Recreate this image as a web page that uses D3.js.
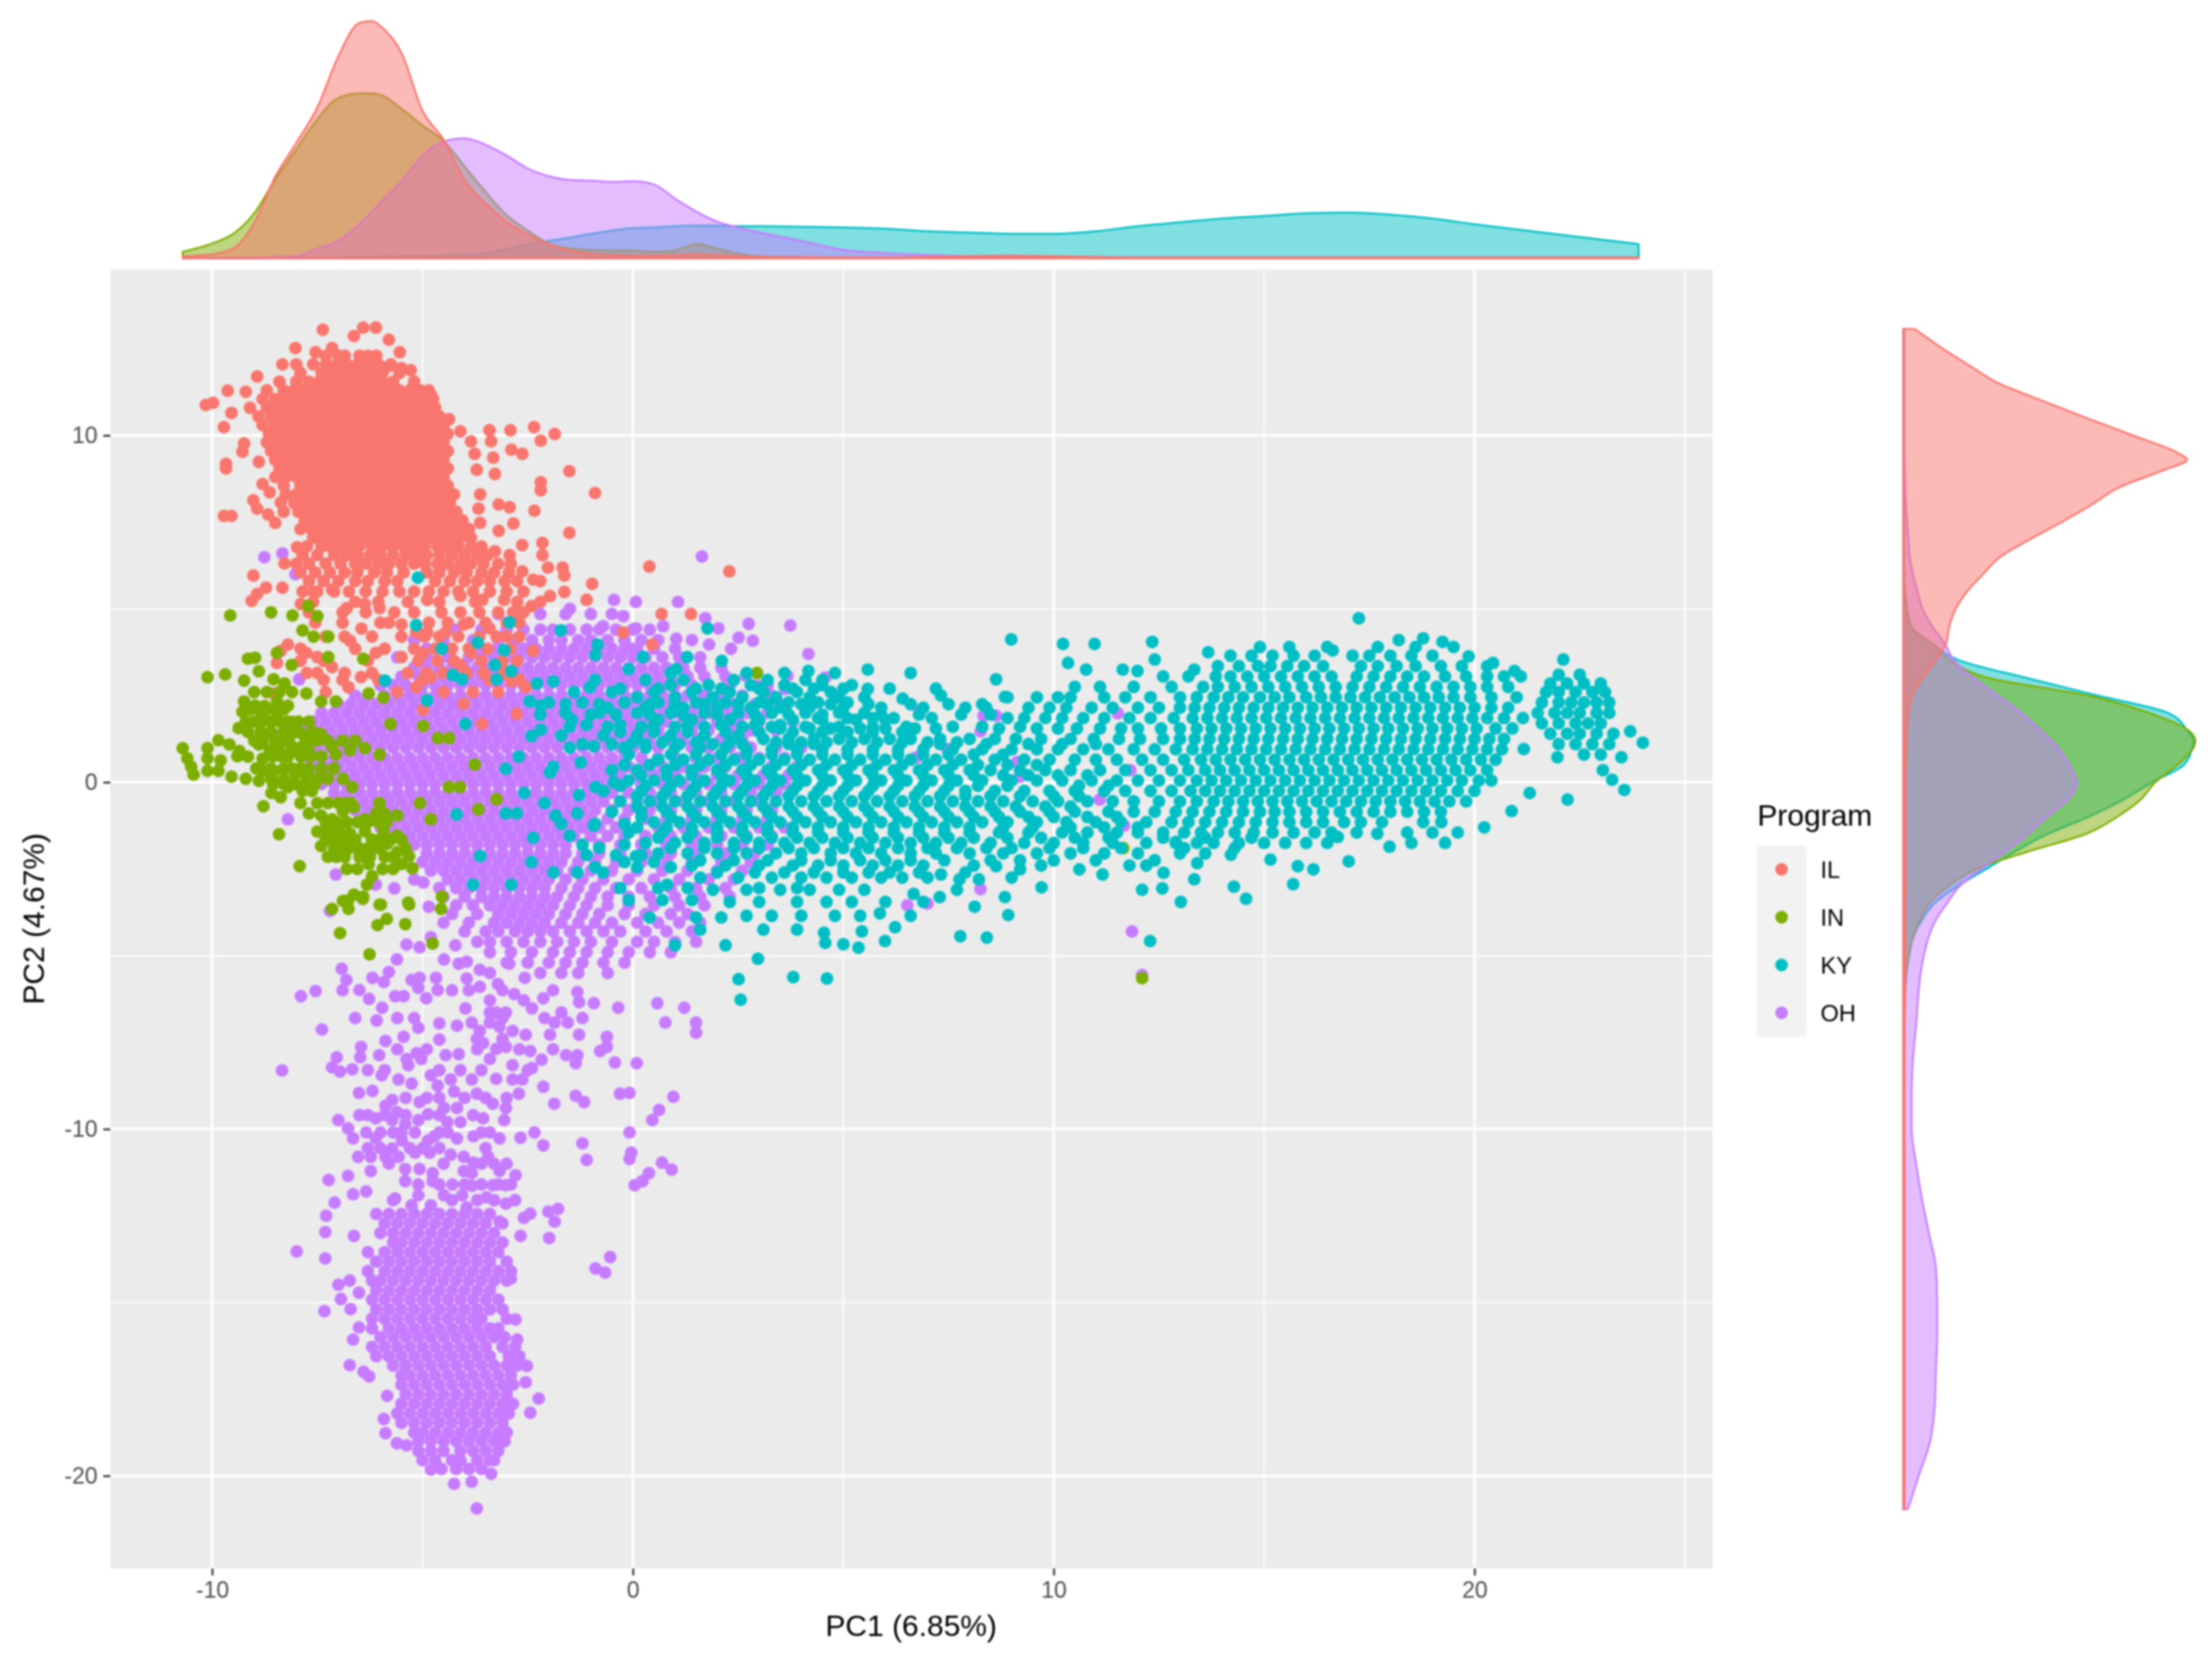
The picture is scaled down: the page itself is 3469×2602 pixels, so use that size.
<!DOCTYPE html>
<html><head><meta charset="utf-8">
<script src="https://cdnjs.cloudflare.com/ajax/libs/d3/7.8.5/d3.min.js"></script>
<style>html,body{margin:0;padding:0;background:#fff}svg{display:block;filter:blur(1.7px)}text{font-family:"Liberation Sans",Arial,sans-serif}</style>
</head><body><div id="chart"></div>
<script>
const programs = ["IL","IN","KY","OH"];
const programColors = ["#F8766D","#7CAE00","#00BFC4","#C77CFF"];
const xTicks = [-10,0,10,20], xMinor = [-5,5,15,25], yTicks = [-20,-10,0,10], yMinor = [-15,-5,5];

// marginal density of PC1 (relative units)
const topGrid = [-10.7,-10,-9.5,-9,-8.5,-8,-7.5,-7,-6.5,-6.2,-6,-5.5,-5,-4.5,-4,-3.5,-3,-2.5,-2,-1.5,-1,-.5,0,.5,1,1.5,2,2.5,3,4,5,6,7,8,9,10,11,12,13,14,15,16,17,18,19,20,21,22,23,23.9];
const topIL = [3,6,15,55,127,180,235,315,367,370,362,320,230,185,122,85,57,37,22,12,7,5,4,4,5,6,5,3,2,2,1,1,2,3,4,3,2,1,1,1,1,1,1,1,1,1,1,1,1,1];
const topIN = [10,23,38,70,123,170,217,250,257,257,255,233,207,183,143,103,67,43,23,15,13,12,12,10,12,22,15,7,3,1,1,1,1,1,1,1,1,1,1,1,1,1,1,1,1,1,1,1,1,1];
const topKY = [0,0,0,0,1,1,1,1,2,2,2,3,3,4,5,8,14,22,27,32,38,43,47,48,50,51,51,50,50,49,48,46,42,40,38,38,42,50,56,62,66,70,71,68,62,53,45,37,29,22];
const topOH = [0,0,1,1,2,3,15,27,53,72,87,120,160,182,187,177,160,140,128,122,121,119,120,115,93,73,57,48,40,27,13,8,5,3,3,2,2,1,1,1,1,1,1,1,1,1,1,1,1,1];

// marginal density of PC2 (relative units)
const rightGrid = [13.07,12.5,12,11.5,11,10.5,10,9.5,9.3,9,8.5,8,7.5,7,6.5,6,5.5,5,4.5,4,3.5,3,2.5,2,1.5,1.2,1,.5,0,-.5,-1,-1.5,-2,-2.5,-3,-3.5,-4,-4.5,-5,-5.5,-6,-7,-8,-9,-10,-11,-12,-13,-14,-15,-16,-17,-18,-19,-20,-20.96];
const rightIL = [18,62,105,150,218,288,360,430,445,408,338,295,248,198,152,125,100,82,72,67,50,30,14,8,6,5,5,4,4,4,4,4,4,4,4,3,3,3,3,3,3,2,2,2,2,2,2,2,2,2,2,2,2,2,2,2];
const rightIN = [1,1,1,1,1,1,1,1,1,1,1,1,1,1,1,1,3,6,12,45,75,135,290,385,447,458,455,430,395,372,335,285,195,115,70,40,25,14,9,4,2,1,1,1,1,1,1,1,1,1,1,1,1,1,1,1];
const rightKY = [1,1,1,1,1,1,1,1,1,1,1,1,1,1,1,1,2,5,10,45,90,195,305,415,445,455,453,440,390,345,290,225,175,130,85,48,28,15,9,5,3,1,1,1,1,1,1,1,1,1,1,1,1,1,1,1];
const rightOH = [1,1,1,1,1,1,1,1,2,2,3,4,6,8,10,15,22,30,45,65,80,110,148,185,215,232,242,260,272,258,225,195,160,123,88,68,50,39,32,27,24,20,15,13,13,20,29,40,51,53,53,51,49,42,24,7];

// scores: single points [PC1, PC2]
const ilSingles = [[-7.37,13.05],[-6.41,13.11],[-6.11,13.11],[-5.8,12.76],[-5.54,12.4],[-6.63,12.87],[-7.15,12.52],[-8.02,12.52],[-7.54,12.4],[-8.33,12.05],[-8.93,11.7],[-9.63,11.29],[-9.2,11.26],[-9.98,10.94],[-10.15,10.88],[-9.54,10.65],[-9.72,10.24],[-9.24,9.77],[-9.28,9.53],[-9.67,9.18],[-9.67,9.05],[-8.89,9.24],[-8.8,8.6],[-8.63,8.36],[-9.02,8.13],[-8.93,7.89],[-9.72,7.68],[-9.54,7.68],[-8.67,7.72],[-8.5,7.48],[-8.37,8.07],
[-5.8,12],[-5.28,11.88],[-5.5,11.94],[-4.8,11.17],[-4.76,10.82],[-4.37,10.47],[-3.41,10.15],[-2.91,10.15],[-2.35,10.24],[-1.86,10.04],[-2.19,9.85],[-4.1,10.12],[-3.85,9.83],[-3.76,9.47],[-3.37,9.83],[-3.32,9.36],[-3.28,8.89],[-3.71,9.01],[-2.89,9.59],[-2.63,9.47],[-1.51,8.97],[-2.19,8.65],[-2.19,8.42],[-.9,8.34],[-3.63,8.3],[-3.67,7.89],[-3.19,8.01],[-2.93,7.93],[-2.34,7.83],[-3.63,7.48],[-2.84,7.46],[-3.19,7.25],[-1.51,7.19],[-2.63,6.84],[-2.15,6.9],[-3.28,6.66],[-2.93,6.55],[-2.15,6.55],[-1.67,6.19],[-2.02,6.19],[-1.63,5.96],[-2.63,6.08],[-2.37,5.84],[-.97,5.72],[-1.1,5.26],[-1.63,5.49],[-1.97,5.37],[.39,6.22],[2.29,6.08],[.68,4.85],[1.38,4.85],[-.23,4.32],[.46,3.97],
[-9.02,5.96],[-8.72,5.61],[-8.93,5.43],[-9.06,5.23],[-8.33,5.61],[-8.28,6.31],[-7.89,5.14],[-7.59,5.49],[-7.98,6.78],[-7.15,5.55],
[-8.2,3.97],[-8.37,3.79],[-7.76,3.73],[-7.5,3.61],[-7.15,3.32],[-7.5,3.15],[-6.46,3.03],[-6.76,2.74],[-6.72,4.08],[-6.45,4.43],[-6.11,3.73],[-5.5,3.61],[-5.15,4.32],[-4.89,4.32],[-4.45,4.32],[-4.02,4.55],[-3.41,4.44],[-3.24,4.2],[-4.1,3.38],[-3.85,3.73],[-4.98,3.73],[-4.8,3.03],[-5.15,2.74],[-2.89,2.91],[-2.54,2.74],[-2.37,3.79],[-3.06,5.26],[-2.41,5.08],[-4.1,5.37],[-3.58,5.26],[-4.89,5.26],[-5.67,4.9],[-6.02,5.02],[-6.37,5.14],[-6.8,5.02],[-5.5,4.55],[-4.98,2.09],[-4.02,2.27],[-3.58,1.68],[-2.76,1.97],[-8.54,2.56],[-8.46,3.44]];
// scores: dense bands [PC2, PC1, PC1, ...]
const ilBands = [
[12.3,-7.3,-7,-6.85,-6.5,-6.3,-6.1],
[12.05,-8,-7.6,-7.3,-7.05,-6.8,-6.55,-6.3,-6.05,-5.75],
[11.8,-7.9,-7.4,-7.15,-6.9,-6.65,-6.4,-6.15,-5.95,-5.55],
[11.55,-8.4,-8,-7.7,-7.45,-7.2,-6.95,-6.7,-6.45,-6.2,-5.95,-5.7,-5.2],
[11.3,-8.7,-8.3,-8.05,-7.8,-7.55,-7.3,-7.05,-6.8,-6.55,-6.3,-6.05,-5.8,-5.55,-5.3,-5.05,-4.85],
[11.05,-8.8,-8.5,-8.25,-8,-7.75,-7.5,-7.25,-7,-6.75,-6.5,-6.25,-6,-5.75,-5.5,-5.25,-5,-4.75],
[10.8,-9.1,-8.7,-8.45,-8.2,-7.95,-7.7,-7.45,-7.2,-6.95,-6.7,-6.45,-6.2,-5.95,-5.7,-5.45,-5.2,-4.95,-4.7],
[10.55,-8.9,-8.6,-8.35,-8.1,-7.85,-7.6,-7.35,-7.1,-6.85,-6.6,-6.35,-6.1,-5.85,-5.6,-5.35,-5.1,-4.85,-4.6],
[10.3,-8.8,-8.5,-8.25,-8,-7.75,-7.5,-7.25,-7,-6.75,-6.5,-6.25,-6,-5.75,-5.5,-5.25,-5,-4.75,-4.5],
[10.05,-8.65,-8.4,-8.15,-7.9,-7.65,-7.4,-7.15,-6.9,-6.65,-6.4,-6.15,-5.9,-5.65,-5.4,-5.15,-4.9,-4.65,-4.4],
[9.8,-8.7,-8.5,-8.25,-8,-7.75,-7.5,-7.25,-7,-6.75,-6.5,-6.25,-6,-5.75,-5.5,-5.25,-5,-4.75,-4.5],
[9.55,-8.6,-8.4,-8.15,-7.9,-7.65,-7.4,-7.15,-6.9,-6.65,-6.4,-6.15,-5.9,-5.65,-5.4,-5.15,-4.9,-4.65,-4.4],
[9.3,-8.5,-8.25,-8,-7.75,-7.5,-7.25,-7,-6.75,-6.5,-6.25,-6,-5.75,-5.5,-5.25,-5,-4.75,-4.5],
[9.05,-8.4,-8.15,-7.9,-7.65,-7.4,-7.15,-6.9,-6.65,-6.4,-6.15,-5.9,-5.65,-5.4,-5.15,-4.9,-4.65,-4.4],
[8.8,-8.5,-8.25,-8,-7.75,-7.5,-7.25,-7,-6.75,-6.5,-6.25,-6,-5.75,-5.5,-5.25,-5,-4.75,-4.5],
[8.55,-8.3,-7.9,-7.65,-7.4,-7.15,-6.9,-6.65,-6.4,-6.15,-5.9,-5.65,-5.4,-5.15,-4.9,-4.65,-4.4],
[8.3,-8.25,-8,-7.75,-7.5,-7.25,-7,-6.75,-6.5,-6.25,-6,-5.75,-5.5,-5.25,-5,-4.75,-4.5,-4.25],
[8.05,-8.05,-7.85,-7.6,-7.35,-7.1,-6.85,-6.6,-6.35,-6.1,-5.85,-5.6,-5.35,-5.1,-4.85,-4.6,-4.35],
[7.8,-8.3,-7.95,-7.7,-7.45,-7.2,-6.95,-6.7,-6.45,-6.2,-5.95,-5.7,-5.45,-5.2,-4.95,-4.7,-4.45,-4.2],
[7.55,-7.8,-7.55,-7.3,-7.05,-6.8,-6.55,-6.3,-6.05,-5.8,-5.55,-5.3,-5.05,-4.8,-4.55,-4.3,-4.05],
[7.3,-7.9,-7.65,-7.4,-7.15,-6.9,-6.65,-6.4,-6.15,-5.9,-5.65,-5.4,-5.15,-4.9,-4.65,-4.4,-4.15,-3.9],
[7.05,-7.6,-7.35,-7.1,-6.85,-6.6,-6.35,-6.1,-5.85,-5.6,-5.35,-5.1,-4.85,-4.6,-4.35,-4.1,-3.85],
[6.8,-7.75,-7.4,-7.2,-6.95,-6.7,-6.5,-6.2,-5.95,-5.7,-5.45,-5.2,-4.95,-4.65,-4.4,-4.15,-3.85,-3.6],
[6.55,-7.85,-7.5,-7.1,-6.8,-6.55,-6.25,-6,-5.7,-5.4,-5.15,-4.9,-4.6,-4.3,-4,-3.7,-3.45],
[6.3,-8,-7.7,-7.3,-6.95,-6.6,-6.35,-6.05,-5.8,-5.5,-5.2,-4.95,-4.65,-4.4,-4.1,-3.85,-3.55,-3.2,-2.9],
[6.05,-7.9,-7.55,-7.2,-6.85,-6.55,-6.15,-5.85,-5.45,-4.9,-4.6,-4.25,-3.95,-3.6,-3.3,-2.95],
[5.8,-7.7,-7.35,-7,-6.6,-6.3,-5.9,-5.6,-4.7,-4.35,-4,-3.7,-3.4,-3.05,-2.75,-2.2],
[5.5,-7.85,-7.5,-7.1,-6.75,-6.35,-5.95,-5.55,-5.2,-4.85,-4.5,-4.15,-3.8,-3.4,-3,-2.6],
[5.2,-7.6,-6.6,-6.05,-5.35,-4.6,-3.75,-2.75,-2.2],
[4.9,-7.7,-6.9,-6.35,-5.2,-4.55,-4.1,-3.65,-3.2,-2.85,-2.6],
[4.6,-7.55,-6.9,-6,-5.8,-4.85,-4.4,-3.9,-3.5,-3,-2.7],
[4.2,-7.3,-6.85,-6.2,-5.5,-4.95,-4.6,-4.15,-3.65,-3,-2.7],
[3.85,-7.9,-6.6,-5.9,-5.2,-4.7,-4.3,-3.9,-3.45,-2.9],
[3.5,-7.9,-7.35,-6.3,-5.1,-4.65,-4.25,-3.6,-3.1,-2.75],
[3.15,-7.75,-6.85,-6.2,-5.35,-4.9,-4.5,-3.95,-3.55,-3.05],
[2.95,-7.35,-6.9,-6.05,-5,-3.4,-2.7],
[2.6,-7.3,-5.6,-4.5,-3.8,-3.2]];

const inSingles = [[-9.57,4.81],[-8.6,4.9],[-8.09,4.81],[-7.72,5.08],[-7.5,4.79],[-7.85,4.38],[-7.59,4.2],[-7.24,4.2],[-9.15,3.56],[-8.98,3.59],[-8.46,3.73],[-8.11,3.38],[-7.24,3.61],[-10.11,3.03],[-9.69,3.11],[-9.24,2.93],[-8.89,3.2],[-8.54,2.97],[-8.28,2.85],[-6.41,3.56],[-9.24,2.33],[-9.28,2.03],[-8.98,2.21],[-8.75,2.2],[-8.46,2.33],[-8.2,2.21],[-7.76,2.56],[-7.41,2.33],[-7.06,2.33],[-6.28,2.56],[-5.93,2.44],[-8.8,1.97],[-8.46,1.86],[-8.11,1.74],[-9.37,1.56],[-9.15,1.45],[-8.85,1.45],[-8.11,1.39],[-7.85,1.39],[-8.11,1.04],[-7.85,1.04],[-8.2,.74],[-7.89,.74],[-8.89,1.09],[-8.63,.92],[-9.15,.74],[-8.8,.68],[-10.7,.98],[-10.59,.69],[-10.5,.45],[-10.44,.22],[-10.11,.98],[-9.85,1.21],[-9.59,1.09],[-10.11,.69],[-9.8,.63],[-10.11,.33],[-9.85,.33],[-9.54,.16],[-8.8,.33],[-8.54,.33],[-8.89,.04],[-8.02,.22],[-7.76,.22],[-8.2,-.14],[-7.85,-.25],[-7.63,-.25],[-8.59,-.31],[-8.37,-.43],[-8.78,-.69],[-8.41,-1.5],[-7.92,-2.42],[-7.41,1.39],[-7.15,1.04],[-7.06,.8],[-6.72,.92],[-6.37,.98],[-6.02,.8],[-5.76,1.68],[-4.98,1.62],[-4.63,1.27],[-4.37,1.27],[-3.76,.51],[-4.37,-.14],[-4.11,-.14],[-3.24,-.49],[-5.06,-.6],[-3.67,-.78],[-4.8,-1.07],[-6.67,-.14],[-6.89,.1],[-6.8,-.6],[-7.41,-.96],[-7.15,-1.07],[-6.89,-.84],[-6.63,-.72],[-6.37,-1.07],[-6.02,-.6],[-5.6,-.96],[-7.5,-1.42],[-7.24,-1.42],[-6.98,-1.42],[-6.72,-1.48],[-6.37,-1.42],[-5.93,-1.42],[-5.6,-1.54],[-7.41,-1.84],[-6.98,-1.84],[-6.72,-1.89],[-6.28,-1.89],[-5.85,-1.78],[-5.6,-2.01],[-5.32,-2.13],[-6.28,-2.36],[-5.5,-2.36],[-5.24,-2.48],[-6.2,-2.71],[-6.32,-2.95],[-6.89,-3.42],[-6.63,-3.24],[-6.41,-3.3],[-6.76,-3.65],[-6.02,-3.53],[-5.32,-3.53],[-4.54,-3.3],[-5.85,-3.94],[-7.15,-3.65],[-6.26,-4.96],[-6.96,-4.35],[-6.77,-3.41],[-6.42,-3.36],[-5.99,-3.53],[-5.34,-3.47],[-5.41,-4.09],[-6.07,-4.12],[-4.56,-3.65],[-4.76,-4.65],[11.65,-1.9],[2.95,3.15],[12.1,-5.65]];
const inBands = [
[2.6,-9,-8.7,-8.4,-8.1],
[2.1,-9.1,-8.9,-8.7,-8.5,-8.3],
[1.75,-9.2,-9,-8.8,-8.6,-8.4,-8.2,-7.95,-7.7],
[1.45,-8.6,-8.3,-8,-7.6],
[1.2,-9,-8.8,-8.5,-8.3,-7.7,-7.5,-7.25,-6.9,-6.6],
[.9,-9.35,-8.4,-8.1,-7.9,-7.7],
[.75,-9.4,-8.55,-8.35,-7.65,-7.4],
[.4,-8.95,-8.6,-8.3,-8.1,-7.9,-7.7,-7.4,-7.1],
[.1,-9.2,-8.6,-8.3,-7.5,-7.25],
[-.05,-8.55,-8.3,-8.05,-7.8,-7.55],
[-.6,-7.9,-7.5,-7.25,-7,-6.7],
[-.9,-7.7,-6.1,-5.9],
[-1.15,-7.3,-7.05,-6.8,-6.55,-6.3,-6.05,-5.85],
[-1.65,-7.3,-7.1,-6.85,-6.6,-6.2,-6,-5.75,-5.5],
[-1.9,-7.1,-6.5,-6.05,-5.4],
[-2.15,-7.25,-7.05,-6.85,-6.5,-6.25,-5.9,-5.7],
[-2.5,-6.8,-6.55,-5.95,-5.7]];

const kySingles = [[17.25,4.73],[8.99,4.12],[10.22,3.99],[10.97,3.99],[12.34,4.05],[13.67,3.75],[16.63,3.8],[18.2,4.1],[18.78,4.15],[19.24,4.05],[19.86,3.63],[20.44,3.44],[20.95,3.21],[22.11,3.54],[10.34,3.44],[10.77,3.25],[11.64,3.25],[11.99,3.21],[12.4,3.54],[13.34,3.25],[8.63,2.97],[5.58,3.25],[5.58,2.69],[6.41,2.41],[7.32,2.5],[7.9,2.15],[8.84,2.46],[4.17,3.21],
[9.71,-3.03],[8.84,-3.31],[8.12,-3.59],[8.92,-3.83],[6.23,-4.18],[7.78,-4.44],[8.41,-4.48],[5.99,-4.58],[5.44,-4.3],[5,-4.67],[4.57,-4.63],[5.36,-4.77],[4.54,-4.34],[2.97,-5.09],[3.81,-5.62],[4.61,-5.66],[2.51,-5.68],[2.56,-6.27],[12.29,-4.58],[12.1,-3.1],[12.58,-3.06],[13.02,-3.45],[14.28,-3.01],[14.57,-3.36],[15.69,-2.94],[11.16,-2.66],[10.61,-2.51],[9.2,-2.51],[8.63,-2.42],[7.76,-2.8],[8.22,-2.8],[7.32,-2.66],[6.67,-3.22],[7.29,-3.31],[5.87,-3.78],[20.23,-1.3],[20.88,-.83],[22.21,-.5],[21.31,-.31],[21.17,.96],[21.97,.72],[17.01,-2.28],[17.98,-1.86],[17.69,-1.48],[16.75,-1.58],[16.17,-2.51],[15.8,-2.42],[15.15,-2.23],[14.21,-2.09],[13.41,-2.33],[12.61,-2.61],[13.34,-2.8],[12.9,-1.72],[18.78,-1.15],[19.21,-1.15],[24,1.14],[23.7,1.47],[23.49,.72],[23.56,-.22],[23.27,.07],[23.05,.35],
[-5.11,5.9],[-5.15,4.53],[-4.54,3.85],[-3.69,4.03],[-2.93,4.61],[-3.06,3.81],[-3.28,3.38],[-4.28,3.09],[-4.06,2.97],[-2.89,3.2],[-3.24,2.97],[-5.89,2.93],[-4.89,2.36],[-3.98,1.68],[-1.71,4.38],[-.84,3.97],[-.89,3.67],[.24,3.61],[1.77,4.44],[1.29,3.61],[2.11,3.5],[-.1,3.26],[1.03,3.26],[-1.89,2.91],[-2.28,2.85],[-1.02,2.74],[-2.19,2.21],[-2.45,2.33],[-1.45,1.8],[-2.19,1.51],[-2.41,1.33],[-2.71,.74],[-3.02,.39],[-2.58,-.31],[-3.02,-.9],[-2.76,-.9],[-4.19,-.93],[-3.63,-2.13],[-3.8,-2.95],[-2.89,-2.95],[-2.37,-1.6],[-2.41,-2.3],[-1.89,-2.6],[-1.89,.45],[-1.97,.28],[-2.1,-.6],[-1.84,-.96],[-1.28,-.37],[-1.32,-.9],[-1.5,-1.54],[-.93,-1.25],[-1.24,.57],[-.93,1.04],[-.89,-.14],[-.45,0],[-.8,-1.89],[-1.32,-2.6],[-.71,-2.6],[.07,-2.13],[.81,-2.95]];
const kyBands = [
[3.9,14.9,15.6,16.5,17.7,18.6,19.5],
[3.65,14.2,14.7,15.2,15.7,16.2,17.1,17.5,18,18.5,19],
[3.35,13.9,14.4,14.85,15.15,15.55,15.95,16.4,17.3,17.7,18.15,18.6,19.2,19.7,20.3],
[3.05,12.6,13.2,13.85,14.2,14.6,15,15.4,15.8,16.2,16.6,17.2,17.6,18,18.4,18.8,19.3,19.8,20.3,20.7,21.1],
[2.75,10.5,11.1,11.9,12.8,13.55,13.9,14.3,14.7,15.1,15.5,15.9,16.3,16.7,17.1,17.5,17.9,18.3,18.7,19.1,19.5,19.9,20.3,20.8],
[2.45,8.9,9.6,10.1,10.4,11.2,11.7,12.3,13,13.4,13.8,14.15,14.5,14.9,15.25,15.6,16,16.35,16.7,17.05,17.4,17.75,18.1,18.45,18.8,19.15,19.5,19.9,20.4,21],
[2.15,5.9,6.9,8.4,9.4,9.9,10.3,10.9,11.4,12,12.5,13,13.35,13.7,14.05,14.4,14.75,15.1,15.45,15.8,16.15,16.5,16.85,17.2,17.55,17.9,18.25,18.6,18.95,19.3,19.65,20,20.4,20.8],
[1.85,4.4,5.1,5.7,6.2,7.1,8.9,9.3,9.8,10.2,10.7,11.2,11.8,12.3,12.85,13.3,13.65,14,14.35,14.7,15.05,15.4,15.75,16.1,16.45,16.8,17.15,17.5,17.85,18.2,18.55,18.9,19.25,19.6,19.95,20.3,20.7,21.15],
[1.55,3.5,4.2,4.7,5.4,6,6.7,7.2,8.7,9.6,10.1,10.55,11.1,11.6,12,12.55,13,13.4,13.75,14.1,14.45,14.8,15.15,15.5,15.85,16.2,16.55,16.9,17.25,17.6,17.95,18.3,18.65,19,19.35,19.7,20.05,20.5,20.9],
[1.25,3.1,3.7,4.3,4.9,5.5,6.1,6.6,7.3,8,8.6,9.1,9.7,10.4,10.95,11.55,12.05,12.6,13,13.35,13.7,14.05,14.4,14.75,15.1,15.45,15.8,16.15,16.5,16.85,17.2,17.55,17.9,18.25,18.6,18.95,19.3,19.65,20,20.35,20.7],
[.95,2.7,3.3,3.9,4.5,5.1,5.7,6.3,6.9,7.6,8.3,9,9.6,10.1,10.7,11.3,11.9,12.4,12.9,13.3,13.65,14,14.35,14.7,15.05,15.4,15.75,16.1,16.45,16.8,17.15,17.5,17.85,18.2,18.55,18.9,19.25,19.6,19.95,20.3,20.65],
[.65,.6,1.2,1.8,2.4,3,3.6,4.2,4.8,5.4,6,6.6,7.2,7.8,8.6,9.3,9.9,10.5,11,11.5,12.1,12.6,13.1,13.5,13.85,14.2,14.55,14.9,15.25,15.6,15.95,16.3,16.65,17,17.35,17.7,18.05,18.4,18.75,19.1,19.45,19.8,20.15,20.5],
[.35,-.5,.1,.8,1.4,2,2.6,3.2,3.8,4.4,5,5.6,6.2,6.8,7.4,8,8.5,9.2,9.8,10.4,11.1,11.7,12.3,12.8,13.2,13.6,13.95,14.3,14.65,15,15.35,15.7,16.05,16.4,16.75,17.1,17.45,17.8,18.15,18.5,18.85,19.2,19.55,19.9,20.3],
[.05,-.1,.5,1.1,1.7,2.3,2.9,3.5,4.1,4.7,5.3,5.9,6.5,7.1,7.7,8.3,9,9.6,10.2,10.9,11.5,12,12.5,13,13.4,13.75,14.1,14.45,14.8,15.15,15.5,15.85,16.2,16.55,16.9,17.25,17.6,17.95,18.3,18.65,19,19.35,19.7,20.1,20.4],
[-.25,-.7,.2,.8,1.4,2,2.6,3.2,3.8,4.4,5,5.6,6.2,6.8,7.4,7.9,8.6,9.3,9.9,10.5,11.2,11.7,12.3,12.8,13.25,13.6,13.95,14.3,14.65,15,15.35,15.7,16.05,16.4,16.75,17.1,17.45,17.8,18.15,18.5,18.85,19.2,19.6,20],
[-.55,-.3,.4,1,1.6,2.2,2.8,3.4,4,4.6,5.2,5.8,6.4,7,7.6,8.2,8.8,9.5,10.1,10.8,11.4,11.9,12.5,13,13.4,13.8,14.15,14.5,14.85,15.2,15.55,15.9,16.25,16.6,16.95,17.3,17.65,18,18.35,18.7,19.05,19.4,19.8],
[-.85,-.5,.2,.8,1.4,2,2.6,3.2,3.8,4.4,5,5.6,6.2,6.8,7.4,8,8.6,9.2,9.9,10.5,11.3,11.9,12.4,12.9,13.3,13.7,14.1,14.5,14.9,15.25,15.6,16,16.4,16.8,17.2,17.6,18,18.4,18.8,19.2],
[-1.15,.5,1.1,1.7,2.3,2.9,3.5,4.1,4.7,5.3,5.9,6.5,7.1,7.7,8.3,8.9,9.6,10.3,11,11.6,12.2,12.8,13.2,13.6,14,14.4,14.8,15.2,15.6,16,16.4,16.9,17.3,17.8],
[-1.45,-.1,.7,1.4,2,2.6,3.2,3.8,4.4,5,5.6,6.2,6.8,7.4,8,8.7,9.4,10.2,10.8,11.5,12,12.6,13.1,13.5,13.9,14.3,14.75,15.2,15.7,16.2,16.6,17.2,18.4,19,19.6],
[-1.75,.3,1,1.7,2.4,3,3.6,4.2,4.8,5.4,6,6.6,7.2,7.8,8.5,9.3,10,10.7,11.4,12.2,12.9,13.4,13.8,14.4,15,15.5,16,16.5,18.5,19.3],
[-2.05,.6,1.3,2,2.7,3.4,4,4.7,5.3,5.9,6.6,7.2,8,8.8,9.6,10.4,11.2,12,13,13.6],
[-2.4,1.4,2.2,3,3.8,4.4,5,5.7,6.3,6.9,8.1,9.7,11.8,12.2],
[-2.75,1.6,2.5,3.3,4,4.6,5.2,5.9,6.4,7,9],
[-3.1,1.9,2.7,3.5,4.2,4.9,5.5,7.7],
[-3.45,2.3,3,3.9,4.6,5.2,6,6.9],
[-3.85,2.7,3.3,4,4.8,5.4,6.6],
[-4.25,1.6,3.1,3.9],
[-4.7,1,2.2],
[2.95,-.9,.3,1.2,2.4,3.2,4.1,4.5],
[2.6,-1.4,-.5,.5,1.4,2.3,3.1,3.9,4.7],
[2.3,-2,-1.2,-.2,.6,1.5,2.2,3,3.7,4.4,5.1],
[2,-1.6,-.8,.1,.9,1.7,2.5,3.3,4.1,4.9,5.5],
[1.65,-1.1,-.3,.5,1.3,2.1,2.9,3.5],
[1.35,-1.7,-.7,.1,.9,1.7,2.5],
[1,-1.5,-.2,.3,1,1.6,2.2],
[-1.8,-.2,-1.2],
[-2.3,-.2,.5],
[-3.4,-.1,.7,1.4],
[-3.9,.4,1.5,2.1],
// second pass through the left-hand mass
[2.8,.9,1.8,2.8,3.6,4.5,5.2],
[2.45,.1,1,1.9,2.6,3.4,4.2,4.9,5.5],
[2.15,-.6,.3,1.2,2,2.8,3.5,4.2,5],
[1.8,.6,1.4,2.3,3,3.8,4.5,5.3,6],
[1.45,-.3,.5,1.3,2.2,3,3.8,4.5,5.1,5.7,6.4],
[1.15,0,.7,1.5,2.3,3.4,4,4.6,5.2,5.8,6.4,7,7.7],
[.8,-.1,.9,1.5,2.1,2.7,3.3,3.9,4.5,5.1,5.7,6.3,6.9,7.5,8.1,8.8],
[.5,-.2,.4,1,1.6,2.2,2.8,3.4,4,4.6,5.2,5.8,6.4,7,7.6,8.2,8.9,9.6],
[.2,.2,.8,1.4,2.1,2.7,3.3,3.9,4.5,5.1,5.7,6.3,6.9,7.5,8.1,8.8,9.4,10.1,10.8],
[-.1,-.3,.3,.9,1.5,2.1,2.7,3.3,3.9,4.5,5.1,5.7,6.3,6.9,7.5,8.2,8.9,10.6,11.3],
[-.4,.1,.7,1.3,1.9,2.5,3.1,3.7,4.3,4.9,5.5,6.1,6.7,7.3,7.9,8.5,9.2,10,10.6],
[-.7,.1,.7,1.3,1.9,2.5,3.1,3.7,4.3,4.9,5.5,6.1,6.7,7.3,7.9,8.5,9.1,9.8,10.4],
[-1,.2,.9,1.5,2.1,2.7,3.3,3.9,4.5,5.1,5.7,6.3,6.9,7.5,8.1,8.7,9.4,10,10.8,11.5],
[-1.3,.1,.8,1.4,2,2.6,3.2,3.8,4.4,5,5.6,6.2,6.8,7.4,8,8.8,9.5,10.4,11.2,12],
[-1.6,.6,1.3,2,2.7,3.3,3.9,4.5,5.1,5.7,6.3,6.9,7.5,8.1,8.9,9.7,10.5,11.3,12.6,13.6,14.7],
[-1.9,.9,1.7,2.4,3,3.7,4.3,5,5.6,6.3,7,7.7,8.4,9,9.9,10.7,11.6,13.1,14.3],
[-2.25,1.6,2.4,3.2,4,4.7,5.4,6,6.6,7.4,8.5,9.2,10,11,12.4],
[-2.6,2,2.9,3.6,4.3,5,5.6,6.1,6.8,7.9],
// third pass, upper and lower flanks of the left-hand mass
[3.15,.9,2.7,3.6,4.8,6.6],
[2.7,-.3,.6,1.5,2.1,3,3.8,4.3,5,6.1,7.2],
[2.25,-1.6,-.8,.4,1,1.7,2.5,3.2,4,4.7,5.6,6.6,7.5,8.3],
[1.95,-2.2,-1,-.4,.4,1.2,2,2.9,3.7,4.5,5.9,6.8,7.8,8.5],
[1.6,-1.5,-.6,.2,1,1.7,2.6,3.3,4.1,4.9,5.7,6.5,7.6,8.3,9.2],
[1.1,-1.2,-.5,.3,1.1,1.9,2.6,3.7,4.3,7.3,8.4,9.4,10.2,11],
[-1.2,-1.7,-.9,-.2],
[-2.1,-1.1,-.4,.2],
[-2.45,-.9,.1,.9],
[-3.05,-.3,.6,1.3,3,3.9],
// right-hand group
[3.1,22,22.5],[2.85,21.8,22.2,22.6,23],[2.6,21.7,22,22.4,22.8,23.1],[2.3,21.6,22,22.3,22.6,22.9,23.2],[2,21.5,21.9,22.2,22.5,22.9,23.2],[1.7,21.6,22,22.4,22.7,23],[1.4,21.8,22.2,22.5,22.9,23.3],[1.1,22,22.4,22.8,23.2],[.8,22.6,23]];

const ohSingles = [[-8.76,6.49],[-8.33,6.6],[-8.02,6],[1.64,6.51],[-.45,5.26],[.07,5.2],[1.07,5.2],[-1.5,5],[-.23,4.79],[-.71,4.5],[.07,4.44],[.72,4.5],[1.72,4.73],[2.03,4.44],[1.03,4.14],[1.81,3.97],[-.02,3.85],[2.33,3.85],[-7.93,2.97],[-8.54,1.39],[-8.2,-1.07],[-7.06,-2.66],[-7.2,-3.71],[-6.11,-2.95],[-5.67,-3.06],[-4.98,-2.89],[-4.85,-3.59],
[8.33,1.92],[8.63,1.92],[6.81,2.03],[7.47,.96],[6.74,.72],[8.26,1.47],[9.13,.58],[9.2,.16],[11.09,-.5],[11.67,-1.25],[6.52,-3.55],[7,-3.5],[8.26,-3.08],[11.86,-4.3],[12.1,-5.56],[11.52,1.99],[11.82,.35],[2.75,4.57],[3.74,4.52],[2.51,4.17],[2.85,4.08],[4.17,3.7],[3.67,3.07],[4.57,3.02],[4.71,2.6],[3.62,2.69],[2.68,3.07],[2.97,2.78],
[-7.89,-6.17],[-7.54,-6.02],[-7.39,-7.13],[-8.34,-8.31],[-7.99,-13.53],[-7.31,-13.73],[-7.31,-12.97],[-7.29,-12.5],[-7.09,-12.12],[-7.23,-11.47],[-6.77,-11.35],[-6.65,-11.88],[-6.63,-13.08],[-6.34,-11.8],[-5.65,-12],[-7.33,-15.25],[-6.94,-14.9],[-7,-14.49],[-6.73,-14.37],[-6.51,-14.72],[-6.71,-15.19],[-6.65,-16.07],[-6.51,-15.72],[-6.73,-16.81],[-6.27,-17.13],[-6.4,-17],[-5.84,-17.69],[-5.88,-18.77],[-5.92,-18.36],[-5.61,-19.06],[-5.38,-19.12],[-3.71,-20.94],[-4.25,-20.23],[-3.83,-20.17],[-4.8,-19.82],[-3.37,-19.94],[-2.24,-17.77],[-2.44,-18.18],[-2.55,-17.3],[-2.52,-16.83],[-2.75,-16.07],[-2.79,-15.49],[-2.9,-14.31],[-2.67,-13.08],[-1.99,-13.14],[-1.86,-12.67],[-1.78,-12.3],[-2.01,-12.38],[-2.44,-12.44],[-2.59,-12.56],[-3.17,-12.67],[-.54,-13.69],[-.89,-14.02],[-.66,-14.14],
[.04,-11.62],[.23,-11.5],[.38,-11.27],[.69,-10.97],[.92,-11.17],[-.08,-10.86],[-.04,-10.68],[-.08,-10.1],[-1.1,-10.89],[-1.2,-10.41],[-2.13,-10.47],[-2.34,-10.1],[-2.67,-10.25],[.46,-9.74],[.62,-9.45],[.96,-9.07],[-.31,-8.98],[-.08,-8.96],[-1.16,-9.22],[-1.36,-9.04],[-1.87,-9.27],[-2.13,-8.78],[.09,-8.1],[-.43,-8.08],[-.62,-7.63],[-.78,-7.75],[-.62,-7.34],[-1.32,-7.87],[-1.36,-8.1],[-1.59,-7.87],[-1.28,-7.28],[-1.97,-7.28],[1.5,-6.93],[1.5,-7.22],[.77,-6.93],[1.22,-6.5],[.58,-6.37],[-.35,-6.5],[-.93,-6.37],[-1.28,-6.34],[-1.32,-6.05],[-1.7,-6.64],[-1.55,-6.93],[-1.86,-6.93],
[-6.92,-5.38],[-6.81,-5.7],[-6.5,-5.99],[-6.27,-6.25],[-5.96,-6.5],[-6.09,-6.87],[-6.19,-5.64],[-5.92,-5.76],[-5.8,-5.47],[-5.61,-5.11],[-5.65,-6.17],[-5.45,-6.17],[-5.26,-5.7],[-5.07,-5.64],[-5.1,-5.93],[-4.91,-6.23],[-4.68,-5.64],[-4.64,-5.99],[-5.38,-4.68],[-5.07,-4.76],[-4.8,-4.47],[-4.49,-5.11],[-4.22,-4.7],[-4.14,-5.23],[-3.95,-5.17],[-3.95,-5.66],[-3.64,-5.41],[-3.64,-5.9],[-3.98,-6.52],[-3.4,-6.29],[-3.21,-5.82],[-2.94,-5.23],[-2.57,-5.64],[-2.82,-6.11],[-2.59,-6.29],[-2.4,-6.52],[-2.13,-6.23],[-3.25,-6.64],[-3.02,-6.64],[-3.4,-6.64],[-3.83,-6.93],[-4.6,-6.95],[-4.18,-7.02],[-5.1,-7.08],[-5.45,-7.34],[-5.88,-7.46],[-4.6,-7.42],[-4.45,-7.87],[-4.14,-7.84],[-3.64,-7.17],[-3.4,-6.93],[-3.17,-7.05],[-2.86,-7.17],[-2.55,-7.28],[-3.1,-7.4],[-3.56,-7.52],[-3.71,-7.4],[-3.25,-7.69],[-3.4,-7.98],[-3.02,-7.63],[-2.44,-7.75],[-2.17,-8],[-2.4,-8.24],[-2.86,-8.16],[-3.25,-8.55],[-2.86,-8.57],[-2.63,-8.57],[-2.71,-8.98],
[-6.46,-7.63],[-6.48,-7.93],[-6.03,-7.87],[-7.04,-7.93],[-7.15,-8.22],[-6.96,-8.34],[-6.67,-8.28],[-5.97,-8.45],[-5.38,-7.98],[-5.14,-7.81],[-5.03,-7.98],[-5.34,-8.16],[-5.57,-8.57],[-5.26,-8.69],[-6.51,-8.96],[-6.19,-8.9],[-4.8,-8.45],[-4.64,-8.75],[-4.33,-8.57],[-3.83,-8.57],[-3.71,-8.98],[-4.25,-8.92],[-4.49,-9.39],[-4.18,-9.39],[-5.72,-9.16],[-5.88,-9.33],[-5.61,-9.51],[-5.07,-9.22],[-4.87,-9.57],[-5.1,-9.74],[-5.41,-9.86],[-5.72,-9.74],[-6.11,-9.69],[-7,-9.74],[-6.77,-9.98],[-6.65,-10.27],[-6.34,-10.1],[-6.11,-10.27],[-6.53,-10.8],[-6.23,-10.8],[-6.23,-11.21],[-5.72,-10.56],[-5.49,-10.33],[-5.18,-10.1],[-4.87,-10.33],[-4.72,-10.21],[-5.88,-10.8],[-5.57,-10.8],[-5.18,-10.68],[-4.83,-10.68],[-4.41,-9.8],[-4.1,-9.8],[-4.18,-10.27],[-3.79,-10.21],[-3.56,-9.69],[-3.33,-9.27],[-3.02,-9.39],[-3.06,-9.74],[-3.4,-10.1],[-3.17,-10.27],[-4.33,-10.74],[-4.02,-10.8],[-3.79,-10.97],[-3.44,-10.8],[-4.02,-11.21],[-3.83,-11.27],[-5.07,-11.15],[-5.41,-11.15],[-5.41,-11.5],[-4.76,-11.27],[-4.76,-11.5],[-4.29,-11.6],[-3.83,-11.64],[-3.17,-11.21],[-2.79,-11.33],[-3.33,-11.62],[-3.02,-11.62],[-4.49,-11.91],[-4.06,-11.91],[-3.48,-11.97],[-3.02,-12.15],[-5.1,-11.91],[-4.8,-12.2],[-3.95,-12.26],[-5.26,-12.2]];
const ohBands = [
[4.85,-3.2,-2.8,-2.2,-1.6,-1,-.5],
[4.4,-4.2,-3.6,-3,-2.6,-2.2,-1.9,-1.5,-1.1,-.8,-.4,0,.4],
[4.1,-5.2,-4.5,-3.8,-3.2,-2.8,-2.4,-2,-1.7,-1.3,-1,-.6,-.2,.2,.6,1.4],
[3.85,-4.9,-4.3,-3.6,-3.2,-2.9,-2.6,-2.3,-2,-1.7,-1.4,-1.1,-.8,-.5,-.2,.1,.5,1],
[3.6,-5.6,-4.9,-4.4,-3.9,-3.6,-3.3,-3,-2.7,-2.4,-2.1,-1.8,-1.5,-1.2,-.9,-.6,-.3,0,.3,.7,1.1,1.6],
[3.3,-5.2,-4.9,-4.6,-4.3,-4,-3.7,-3.4,-3.1,-2.8,-2.5,-2.2,-1.9,-1.6,-1.3,-1,-.7,-.4,-.1,.2,.5,.8,1.2,1.6,2.1],
[3.05,-5.5,-5.1,-4.8,-4.5,-4.2,-3.9,-3.6,-3.3,-3,-2.7,-2.4,-2.1,-1.8,-1.5,-1.2,-.9,-.6,-.3,0,.3,.6,.9,1.3,1.7,2.2],
[2.8,-6,-5.7,-5.4,-5,-4.7,-4.4,-4.1,-3.8,-3.5,-3.2,-2.9,-2.6,-2.3,-2,-1.7,-1.4,-1.1,-.8,-.5,-.2,.1,.4,.7,1,1.4,1.8,2.3,3.2],
[2.5,-6.6,-6.3,-5.9,-5.6,-5.3,-5,-4.7,-4.4,-4.1,-3.8,-3.5,-3.2,-2.9,-2.6,-2.3,-2,-1.7,-1.4,-1.1,-.8,-.5,-.2,.1,.4,.7,1,1.3,1.7,2.1,2.6,3.3],
[2.25,-7,-6.7,-6.4,-6.1,-5.8,-5.5,-5.2,-4.9,-4.6,-4.3,-4,-3.7,-3.4,-3.1,-2.8,-2.5,-2.2,-1.9,-1.6,-1.3,-1,-.7,-.4,-.1,.2,.5,.8,1.1,1.5,1.9,2.4,2.9,3.5],
[2,-7.4,-7.1,-6.8,-6.5,-6.2,-5.9,-5.6,-5.3,-5,-4.7,-4.4,-4.1,-3.8,-3.5,-3.2,-2.9,-2.6,-2.3,-2,-1.7,-1.4,-1.1,-.8,-.5,-.2,.1,.4,.7,1,1.4,1.8,2.2,2.7,3.2],
[1.75,-7.6,-7.3,-7,-6.7,-6.4,-6.1,-5.8,-5.5,-5.2,-4.9,-4.6,-4.3,-4,-3.7,-3.4,-3.1,-2.8,-2.5,-2.2,-1.9,-1.6,-1.3,-1,-.7,-.4,-.1,.2,.5,.8,1.2,1.6,2,2.5,3,3.8],
[1.5,-7.8,-7.5,-7.2,-6.9,-6.6,-6.3,-6,-5.7,-5.4,-5.1,-4.8,-4.5,-4.2,-3.9,-3.6,-3.3,-3,-2.7,-2.4,-2.1,-1.8,-1.5,-1.2,-.9,-.6,-.3,0,.3,.6,1,1.4,1.8,2.3,2.8,3.4],
[1.25,-7.7,-7.4,-7.1,-6.8,-6.5,-6.2,-5.9,-5.6,-5.3,-5,-4.7,-4.4,-4.1,-3.8,-3.5,-3.2,-2.9,-2.6,-2.3,-2,-1.7,-1.4,-1.1,-.8,-.5,-.2,.1,.4,.8,1.2,1.6,2.1,2.6,3.1,3.7],
[1,-7.5,-7.2,-6.9,-6.6,-6.3,-6,-5.7,-5.4,-5.1,-4.8,-4.5,-4.2,-3.9,-3.6,-3.3,-3,-2.7,-2.4,-2.1,-1.8,-1.5,-1.2,-.9,-.6,-.3,0,.3,.6,1,1.4,1.8,2.3,2.8,3.4,4],
[.7,-7.7,-7.4,-7.1,-6.8,-6.5,-6.2,-5.9,-5.6,-5.3,-5,-4.7,-4.4,-4.1,-3.8,-3.5,-3.2,-2.9,-2.6,-2.3,-2,-1.7,-1.4,-1.1,-.8,-.5,-.2,.2,.6,1,1.5,2,2.5,3,3.6],
[.45,-7.6,-7.3,-7,-6.7,-6.4,-6.1,-5.8,-5.5,-5.2,-4.9,-4.6,-4.3,-4,-3.7,-3.4,-3.1,-2.8,-2.5,-2.2,-1.9,-1.6,-1.3,-1,-.7,-.4,-.1,.3,.7,1.2,1.7,2.2,2.7,3.3,3.9],
[.2,-7.5,-7.2,-6.9,-6.6,-6.3,-6,-5.7,-5.4,-5.1,-4.8,-4.5,-4.2,-3.9,-3.6,-3.3,-3,-2.7,-2.4,-2.1,-1.8,-1.5,-1.2,-.9,-.6,-.3,.1,.5,1,1.5,2,2.5,3.1,3.7],
[-.05,-7.4,-7.1,-6.8,-6.5,-6.2,-5.9,-5.6,-5.3,-5,-4.7,-4.4,-4.1,-3.8,-3.5,-3.2,-2.9,-2.6,-2.3,-2,-1.7,-1.4,-1.1,-.8,-.5,-.2,.2,.7,1.2,1.8,2.4,3,3.6],
[-.3,-7.1,-6.8,-6.5,-6.2,-5.9,-5.6,-5.3,-5,-4.7,-4.4,-4.1,-3.8,-3.5,-3.2,-2.9,-2.6,-2.3,-2,-1.7,-1.4,-1.1,-.8,-.5,-.1,.4,.9,1.5,2.1,2.8,3.4],
[-.55,-7,-6.7,-6.4,-6.1,-5.8,-5.5,-5.2,-4.9,-4.6,-4.3,-4,-3.7,-3.4,-3.1,-2.8,-2.5,-2.2,-1.9,-1.6,-1.3,-1,-.7,-.3,.1,.6,1.2,1.8,2.4,3],
[-.8,-6.9,-6.6,-6.3,-6,-5.7,-5.4,-5.1,-4.8,-4.5,-4.2,-3.9,-3.6,-3.3,-3,-2.7,-2.4,-2.1,-1.8,-1.5,-1.2,-.9,-.5,-.1,.4,.9,1.5,2.1,2.7,3.3],
[-1.05,-6.4,-6.1,-5.8,-5.5,-5.2,-4.9,-4.6,-4.3,-4,-3.7,-3.4,-3.1,-2.8,-2.5,-2.2,-1.9,-1.6,-1.3,-1,-.6,-.2,.3,.8,1.4,2,2.6,3.2],
[-1.3,-6,-5.7,-5.4,-5.1,-4.8,-4.5,-4.2,-3.9,-3.6,-3.3,-3,-2.7,-2.4,-2.1,-1.8,-1.5,-1.2,-.8,-.4,.1,.6,1.2,1.8,2.4,3,3.6],
[-1.55,-5.3,-5,-4.7,-4.4,-4.1,-3.8,-3.5,-3.2,-2.9,-2.6,-2.3,-2,-1.7,-1.4,-1,-.6,-.2,.3,.9,1.5,2.1,2.7,3.3],
[-1.8,-5.2,-4.9,-4.6,-4.3,-4,-3.7,-3.4,-3.1,-2.8,-2.5,-2.2,-1.9,-1.6,-1.2,-.8,-.3,.2,.8,1.4,2,2.6,3.2],
[-2.05,-4.9,-4.6,-4.3,-4,-3.7,-3.4,-3.1,-2.8,-2.5,-2.2,-1.9,-1.6,-1.2,-.8,-.3,.3,.9,1.5,2.2,2.9],
[-2.3,-5,-4.7,-4.4,-4.1,-3.8,-3.5,-3.2,-2.9,-2.6,-2.3,-2,-1.7,-1.3,-.9,-.4,.2,.8,1.4,2.1,2.8],
[-2.55,-4.8,-4.5,-4.2,-3.9,-3.6,-3.3,-3,-2.7,-2.4,-2.1,-1.8,-1.4,-1,-.5,.1,.7,1.3,2,2.6],
[-2.8,-5.2,-4.4,-4.1,-3.8,-3.5,-3.2,-2.9,-2.6,-2.3,-2,-1.6,-1.2,-.7,-.1,.5,1.1,1.8,2.4],
[-3.05,-4.6,-4.2,-3.9,-3.6,-3.3,-3,-2.7,-2.4,-2.1,-1.7,-1.3,-.9,-.4,.2,.9,1.5,2.2],
[-3.3,-4.5,-4,-3.6,-3.3,-3,-2.7,-2.4,-2.1,-1.8,-1.4,-1,-.6,-.1,.4,1,1.6,2.3],
[-3.55,-4.2,-3.8,-3.4,-3.1,-2.8,-2.5,-2.2,-1.9,-1.5,-1.1,-.6,-.1,.5,1.1,1.7],
[-3.8,-4.3,-3.7,-3.2,-2.9,-2.6,-2.3,-2,-1.6,-1.2,-.8,-.2,.3,.9,1.3],
[-4.05,-4.5,-3.9,-3.3,-3,-2.7,-2.4,-2.1,-1.7,-1.3,-.9,-.5,.1,.6,1.1,1.6],
[-4.3,-4,-3.5,-3.2,-2.8,-2.5,-2.2,-1.9,-1.5,-1.1,-.7,-.3,.3,.8,1.4],
[-4.6,-3.7,-3.4,-3,-2.6,-2.2,-1.8,-1.4,-1,-.5,.1,.5,1,1.5],
[-4.9,-3.4,-2.9,-2.4,-1.9,-1.5,-1.1,-.6,-.1,.4,.9],
[-5.2,-3,-2.5,-2,-1.6,-1.2,-.7,-.2],
[-5.5,-3.4,-2.2,-1.7,-1.3,-.6],
// thin middle of the lobe
[-6,-6.9,-4.3,-3.9,-3.1,-1.9],
[-6.8,-6.6,-5.6,-5.2,-3.1,-2.1,-1.2],
[-7.7,-5.6,-4.9,-3.7,-2.7,-1.9],
[-8.3,-6.3,-5.9,-4.6,-4.1,-3.6,-2.5],
[-9.1,-5.4,-4.9,-4.6,-4,-3.5,-3],
[-9.6,-6.5,-6.3,-5.9,-5.4,-4.6,-3.8],
[-10.1,-6,-5.7,-5.5,-4.6,-4.4,-3.6],
[-10.55,-6.3,-6,-5.3,-5,-4.6,-3.5],
[-11,-5.8,-4.5,-3.6,-3.3,-3],
[-11.6,-5.1,-4.6,-4,-3.6,-3.2,-2.9],
[-12.05,-5.7,-4.3,-3.7,-3.3,-2.8],
// lower lobe
[-12.45,-6.1,-5.8,-5.5,-5.2,-4.9,-4.6,-4.3,-4,-3.7,-3.4],
[-12.72,-5.9,-5.6,-5.3,-5,-4.7,-4.4,-4.1,-3.8,-3.5,-3.1],
[-13,-6,-5.7,-5.4,-5.1,-4.8,-4.5,-4.2,-3.9,-3.6,-3.3],
[-13.27,-5.7,-5.5,-5.2,-4.9,-4.6,-4.3,-4,-3.7,-3.4,-3.1],
[-13.55,-6.3,-5.9,-5.6,-5.3,-5,-4.7,-4.4,-4.1,-3.8,-3.5,-3.2],
[-13.82,-6.1,-5.8,-5.5,-5.2,-4.9,-4.6,-4.3,-4,-3.7,-3.4,-3],
[-14.1,-6.3,-5.9,-5.6,-5.3,-5,-4.7,-4.4,-4.1,-3.8,-3.5,-3.2,-2.9],
[-14.37,-6.2,-6,-5.7,-5.4,-5.1,-4.8,-4.5,-4.2,-3.9,-3.6,-3.3,-3],
[-14.65,-6.1,-5.8,-5.5,-5.2,-4.9,-4.6,-4.3,-4,-3.7,-3.4],
[-14.92,-6.2,-5.9,-5.6,-5.3,-5,-4.7,-4.4,-4.1,-3.8,-3.5,-3.2],
[-15.2,-6.1,-5.8,-5.5,-5.2,-4.9,-4.6,-4.3,-4,-3.7,-3.4,-3.1],
[-15.47,-6.2,-5.9,-5.6,-5.3,-5,-4.7,-4.4,-4.1,-3.8,-3.6,-3],
[-15.75,-6.2,-5.8,-5.5,-5.2,-4.9,-4.6,-4.3,-4,-3.7,-3.4,-3.2],
[-16,-6,-5.7,-5.4,-5.1,-4.8,-4.5,-4.2,-3.9,-3.6,-3.3,-3.05],
[-16.28,-6.2,-5.9,-5.6,-5.3,-5,-4.7,-4.4,-4.1,-3.8,-3.5,-3.1,-2.8],
[-16.55,-6.1,-5.8,-5.5,-5.2,-4.9,-4.6,-4.3,-4,-3.7,-3.4,-2.95,-2.7],
[-16.82,-5.7,-5.4,-5.1,-4.8,-4.5,-4.2,-3.9,-3.6,-3.3,-3,-2.75],
[-17.1,-5.5,-5.3,-5,-4.7,-4.4,-4.1,-3.8,-3.5,-3.2,-2.9],
[-17.37,-5.5,-5.2,-4.9,-4.6,-4.3,-4,-3.7,-3.4,-3.1,-2.85],
[-17.65,-5.4,-5.1,-4.8,-4.5,-4.2,-3.9,-3.6,-3.3,-3],
[-17.92,-5.5,-5.2,-4.9,-4.6,-4.3,-4,-3.7,-3.4,-3.1,-2.85],
[-18.2,-5.6,-5.3,-5,-4.7,-4.4,-4.1,-3.8,-3.5,-3.2,-2.95],
[-18.47,-5.5,-5.2,-4.9,-4.6,-4.3,-4,-3.7,-3.4,-3.1],
[-18.75,-5.2,-5,-4.7,-4.4,-4.1,-3.8,-3.5,-3.2,-3],
[-19,-5.1,-4.8,-4.5,-4.2,-3.9,-3.6,-3.3,-3.05],
[-19.28,-5.1,-4.8,-4.5,-4.1,-3.8,-3.5,-3.2],
[-19.55,-5,-4.7,-4.3,-4.1,-3.7,-3.4,-3.3],
[-19.8,-4.55,-4.2,-3.9,-3.6]];

const topSeries = [topIL,topIN,topKY,topOH];
const rightSeries = [rightIL,rightIN,rightKY,rightOH];
const scatterOrder = [3,0,1,2];
const densityOrder = [2,1,3,0];
const singles = [ilSingles,inSingles,kySingles,ohSingles];
const bands = [ilBands,inBands,kyBands,ohBands];

const W = 3469, H = 2602;
const panel = {left:173,right:2686,top:423,bottom:2460};
const x = d3.scaleLinear().domain([-12.42,25.66]).range([panel.left,panel.right]);
const y = d3.scaleLinear().domain([14.78,-22.67]).range([panel.top,panel.bottom]);
const topH = d3.scaleLinear().domain([0,370]).range([405,33]);
const rightW = d3.scaleLinear().domain([0,458]).range([2985,3443]);

const svg = d3.select("#chart").append("svg").attr("width",W).attr("height",H).attr("viewBox",`0 0 ${W} ${H}`);
svg.append("rect").attr("width",W).attr("height",H).attr("fill","#fff");
svg.append("rect").attr("x",panel.left).attr("y",panel.top).attr("width",panel.right-panel.left).attr("height",panel.bottom-panel.top).attr("fill","#ebebeb");

const grid = svg.append("g").attr("stroke","#fff").attr("fill","none");
grid.selectAll(".vmin").data(xMinor).join("line").attr("x1",d=>x(d)).attr("x2",d=>x(d)).attr("y1",panel.top).attr("y2",panel.bottom).attr("stroke-width",2);
grid.selectAll(".hmin").data(yMinor).join("line").attr("y1",d=>y(d)).attr("y2",d=>y(d)).attr("x1",panel.left).attr("x2",panel.right).attr("stroke-width",2);
grid.selectAll(".vmaj").data(xTicks).join("line").attr("x1",d=>x(d)).attr("x2",d=>x(d)).attr("y1",panel.top).attr("y2",panel.bottom).attr("stroke-width",4);
grid.selectAll(".hmaj").data(yTicks).join("line").attr("y1",d=>y(d)).attr("y2",d=>y(d)).attr("x1",panel.left).attr("x2",panel.right).attr("stroke-width",4);

const pts = i => singles[i].concat(bands[i].flatMap(b => b.slice(1).map(v => [v,b[0]])));
scatterOrder.forEach(i => {
  svg.append("g").attr("fill",programColors[i]).selectAll("circle").data(pts(i)).join("circle")
    .attr("cx",d=>x(d[0])).attr("cy",d=>y(d[1])).attr("r",10);
});

const xAxis = d3.axisBottom(x).tickValues(xTicks).tickSize(11).tickPadding(9).tickFormat(d3.format("d"));
const yAxis = d3.axisLeft(y).tickValues(yTicks).tickSize(11).tickPadding(9).tickFormat(d3.format("d"));
[svg.append("g").attr("transform",`translate(0,${panel.bottom})`).call(xAxis),
 svg.append("g").attr("transform",`translate(${panel.left},0)`).call(yAxis)].forEach(g=>{
  g.select(".domain").remove();
  g.selectAll(".tick line").attr("stroke","#333").attr("stroke-width",3);
  g.selectAll(".tick text").attr("fill","#4d4d4d").style("font-size","36px").style("font-family",'"Liberation Sans"')
    .text(d=>String(d));
});

svg.append("text").attr("x",1429).attr("y",2566).attr("text-anchor","middle").attr("font-size",47).attr("fill","#000").text("PC1 (6.85%)");
svg.append("text").attr("transform","translate(69,1441) rotate(-90)").attr("text-anchor","middle").attr("font-size",47).attr("fill","#000").text("PC2 (4.67%)");

const topArea = d3.area().x((d,i)=>x(topGrid[i])).y0(topH(0)).y1(d=>topH(d)).curve(d3.curveMonotoneX);
const rightArea = d3.area().y((d,i)=>y(rightGrid[i])).x0(rightW(0)).x1(d=>rightW(d)).curve(d3.curveMonotoneY);
const closed = p => p + "Z";
densityOrder.forEach(i=>{
  svg.append("path").attr("d",closed(topArea(topSeries[i]))).attr("fill",programColors[i]).attr("fill-opacity",.5).attr("stroke",programColors[i]).attr("stroke-width",3).attr("stroke-linejoin","round");
});
densityOrder.forEach(i=>{
  svg.append("path").attr("d",closed(rightArea(rightSeries[i]))).attr("fill",programColors[i]).attr("fill-opacity",.5).attr("stroke",programColors[i]).attr("stroke-width",3).attr("stroke-linejoin","round");
});

const legend = svg.append("g");
legend.append("text").attr("x",2756).attr("y",1295).attr("font-size",47).attr("fill","#000").text("Program");
const keyScale = d3.scaleBand().domain(programs).range([1326,1626]);
legend.selectAll("rect").data(programs).join("rect").attr("x",2755).attr("y",d=>keyScale(d)).attr("width",78).attr("height",keyScale.bandwidth()).attr("fill","#f2f2f2");
legend.selectAll("circle").data(programs).join("circle").attr("cx",2794).attr("cy",d=>keyScale(d)+keyScale.bandwidth()/2).attr("r",10).attr("fill",(d,i)=>programColors[i]);
legend.selectAll(".lab").data(programs).join("text").attr("x",2855).attr("y",d=>keyScale(d)+keyScale.bandwidth()/2).attr("dy",".36em").attr("font-size",37).attr("fill","#000").text(d=>d);
</script></body></html>
